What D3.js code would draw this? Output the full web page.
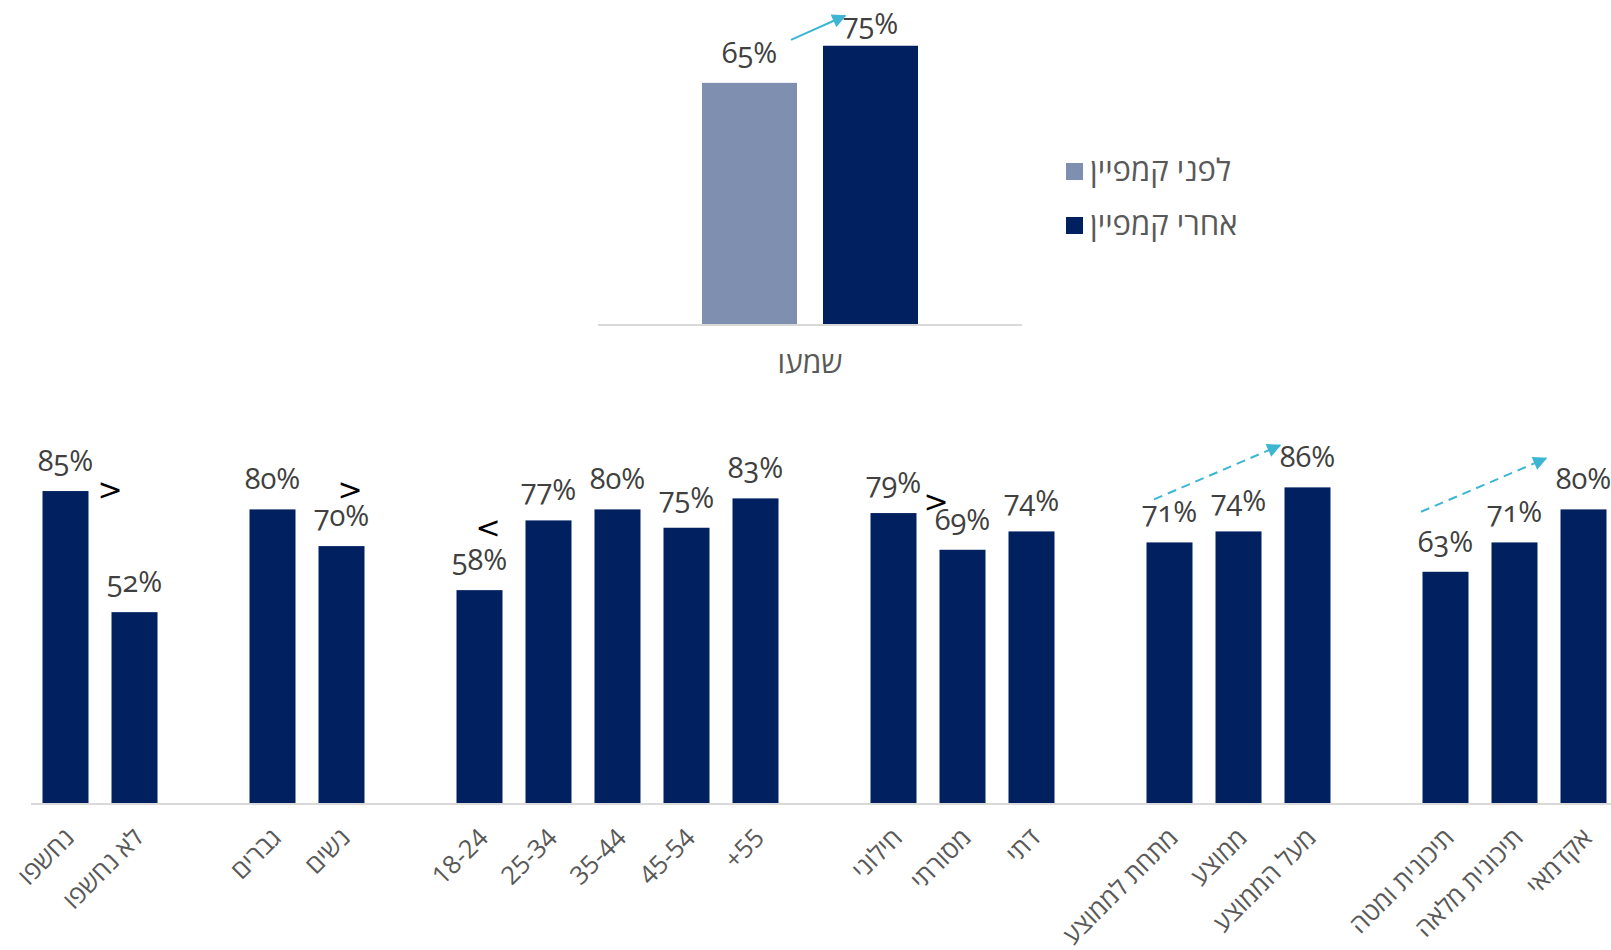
<!DOCTYPE html>
<html lang="he">
<head>
<meta charset="utf-8">
<script src="https://cdn.jsdelivr.net/npm/d3@7/dist/d3.min.js"></script>
<style>
  html, body { margin: 0; padding: 0; background: #ffffff; }
  svg { display: block; }
  .num { font-family: "Open Sans", "Liberation Sans", sans-serif; font-feature-settings: "onum" 1; font-variant-numeric: oldstyle-nums; }
  .heb { font-family: "Open Sans", "Liberation Sans", "DejaVu Sans", sans-serif; }
</style>
</head>
<body>
<svg id="chart" width="1611" height="950"></svg>
<script>
// ---------- DATA ----------
const topCategories = ["שמעו"];
const topSeries = ["לפני קמפיין", "אחרי קמפיין"];
const topValues = [0.65, 0.75];

const groups = [
  ["נחשפו", "לא נחשפו"],
  ["גברים", "נשים"],
  ["18-24", "25-34", "35-44", "45-54", "+55"],
  ["חילוני", "מסורתי", "דתי"],
  ["מתחת לממוצע", "ממוצע", "מעל הממוצע"],
  ["תיכונית ומטה", "תיכונית מלאה", "אקדמאי"]
];
const values = [0.85, 0.52, 0.80, 0.70, 0.58, 0.77, 0.80, 0.75, 0.83, 0.79, 0.69, 0.74, 0.71, 0.74, 0.86, 0.63, 0.71, 0.80];

// comparison marks
const compareSymbols = [">", ">", "<", ">"];
const compareCats = ["לא נחשפו", "נשים", "18-24", "מסורתי"];
const compareRefs = ["נחשפו", "גברים", "18-24", "חילוני"];

// trend arrows (from category -> to category)
const trendFrom = ["מתחת לממוצע", "תיכונית ומטה"];
const trendTo = ["מעל הממוצע", "אקדמאי"];

// ---------- STYLE ----------
const colors = { before: "#7f8faf", after: "#002060", label: "#404040", axisText: "#595959", axis: "#d9d9d9", arrow: "#3cb6d3" };

const svg = d3.select("#chart");
const W = 1611;

const defs = svg.append("defs");
defs.append("marker").attr("id", "head").attr("viewBox", "0 0 10 10")
  .attr("refX", 9).attr("refY", 5).attr("markerWidth", 8.5).attr("markerHeight", 7)
  .attr("markerUnits", "strokeWidth").attr("orient", "auto")
  .append("path").attr("d", "M0,0 L10,5 L0,10 Z").attr("fill", colors.arrow);

// ---------- TOP CHART ----------
const x0 = d3.scaleBand().domain(topCategories).range([598, 1022]).paddingOuter(0.4815).paddingInner(0);
const x1 = d3.scaleBand().domain(topSeries).range([0, x0.bandwidth()]).paddingInner(0.215);
const yTop = d3.scaleLinear().domain([0, 1]).range([324, 324 - 371]);
const topColor = d3.scaleOrdinal().domain(topSeries).range([colors.before, colors.after]);

const gTop = svg.append("g");
const topData = topSeries.map((s, i) => ({ cat: topCategories[0], series: s, value: topValues[i] }));

gTop.selectAll("rect").data(topData).join("rect")
  .attr("x", d => x0(d.cat) + x1(d.series))
  .attr("y", d => yTop(d.value))
  .attr("width", x1.bandwidth())
  .attr("height", d => yTop(0) - yTop(d.value))
  .attr("fill", d => topColor(d.series));

gTop.append("line").attr("x1", x0.range()[0]).attr("x2", x0.range()[1])
  .attr("y1", yTop(0) + 1).attr("y2", yTop(0) + 1).attr("stroke", colors.axis).attr("stroke-width", 2);

gTop.selectAll("text.val").data(topData).join("text")
  .attr("class", "val num")
  .attr("x", d => x0(d.cat) + x1(d.series) + x1.bandwidth() / 2)
  .attr("y", d => Math.max(yTop(d.value) - 20, 34))
  .attr("text-anchor", "middle").attr("font-size", 29).attr("fill", colors.label)
  .text(d => d3.format(".0%")(d.value));

gTop.selectAll("text.cat").data(topCategories).join("text")
  .attr("class", "cat heb")
  .attr("x", d => x0(d) + x0.bandwidth() / 2).attr("y", yTop(0) + 49)
  .attr("text-anchor", "middle").attr("font-size", 30).attr("fill", colors.axisText)
  .text(d => d);

// top arrow
{
  const sx = x0(topCategories[0]) + x1(topSeries[0]) + x1.bandwidth() - 6;
  const sy = yTop(topValues[0]) - 43;
  const ex = x0(topCategories[0]) + x1(topSeries[1]) + 22;
  const ey = yTop(topValues[1]) - 30;
  gTop.append("line").attr("x1", sx).attr("y1", sy).attr("x2", ex).attr("y2", ey)
    .attr("stroke", colors.arrow).attr("stroke-width", 2).attr("marker-end", "url(#head)");
}

// legend
const legend = svg.append("g").attr("transform", "translate(1066,163)");
topSeries.forEach((s, i) => {
  const g = legend.append("g").attr("transform", `translate(0,${i * 54})`);
  g.append("rect").attr("width", 17).attr("height", 17).attr("fill", topColor(s));
  g.append("text").attr("class", "heb").attr("x", 24).attr("y", 18)
    .attr("font-size", 31).attr("fill", colors.axisText).text(s);
});

// ---------- BOTTOM CHART ----------
const domain = [];
const cats = [];
groups.forEach((grp, gi) => {
  if (gi > 0) domain.push("__gap" + gi);
  grp.forEach(c => { domain.push(c); cats.push(c); });
});
const data = cats.map((c, i) => ({ cat: c, value: values[i] }));
const valueOf = {};
data.forEach(d => valueOf[d.cat] = d.value);

const x = d3.scaleBand().domain(domain).range([31, 31 + domain.length * 69]).paddingInner(1 / 3).paddingOuter(1 / 6);
const y = d3.scaleLinear().domain([0, 1]).range([803, 803 - 367]);

const gB = svg.append("g");
gB.selectAll("rect").data(data).join("rect")
  .attr("x", d => x(d.cat)).attr("y", d => y(d.value))
  .attr("width", x.bandwidth()).attr("height", d => y(0) - y(d.value))
  .attr("fill", colors.after);

gB.append("line").attr("x1", x.range()[0]).attr("x2", W)
  .attr("y1", y(0) + 1).attr("y2", y(0) + 1).attr("stroke", colors.axis).attr("stroke-width", 2);

gB.selectAll("text.val").data(data).join("text")
  .attr("class", "val num")
  .attr("x", d => x(d.cat) + x.bandwidth() / 2)
  .attr("y", d => y(d.value) - 20)
  .attr("text-anchor", "middle").attr("font-size", 29).attr("fill", colors.label)
  .text(d => d3.format(".0%")(d.value));

// axis labels (rotated)
const axis = d3.axisBottom(x).tickSize(0).tickFormat(d => d.startsWith("__gap") ? "" : d);
const gAxis = gB.append("g").attr("transform", `translate(0,${y(0)})`).call(axis);
gAxis.select(".domain").remove();
gAxis.selectAll(".tick text")
  .attr("class", "heb")
  .attr("font-size", 25.5).attr("fill", colors.axisText)
  .attr("text-anchor", "end")
  .attr("dy", "0.35em").attr("y", 0)
  .attr("transform", "translate(4,30) rotate(-45)");

// comparison symbols (offsets relative to bar / band positions)
const markDx = [-1.5, 31.5, 8.5, -3.5];
const markBase = ["left", "left", "center", "left"];
const markDy = [-2, -20, -63, -12];
compareSymbols.forEach((s, i) => {
  const c = compareCats[i];
  const bx = markBase[i] === "center" ? x(c) + x.bandwidth() / 2 : x(c);
  gB.append("text")
    .attr("x", bx + markDx[i])
    .attr("y", y(valueOf[compareRefs[i]]) + markDy[i])
    .attr("dy", "0.35em")
    .attr("text-anchor", "middle").attr("font-family", "DejaVu Sans, sans-serif")
    .attr("font-size", 30).attr("fill", "#000").text(s);
});

// trend arrows
const arrowSdx = [7.5, -1.5], arrowSdy = [-43, -60], arrowEdx = [-4.5, -14.5], arrowEdy = [-42, -51];
trendFrom.forEach((f, i) => {
  const t = trendTo[i];
  gB.append("line")
    .attr("x1", x(f) + arrowSdx[i]).attr("y1", y(valueOf[f]) + arrowSdy[i])
    .attr("x2", x(t) + arrowEdx[i]).attr("y2", y(valueOf[t]) + arrowEdy[i])
    .attr("stroke", colors.arrow).attr("stroke-width", 2)
    .attr("stroke-dasharray", "9,6").attr("marker-end", "url(#head)");
});
</script>
</body>
</html>
